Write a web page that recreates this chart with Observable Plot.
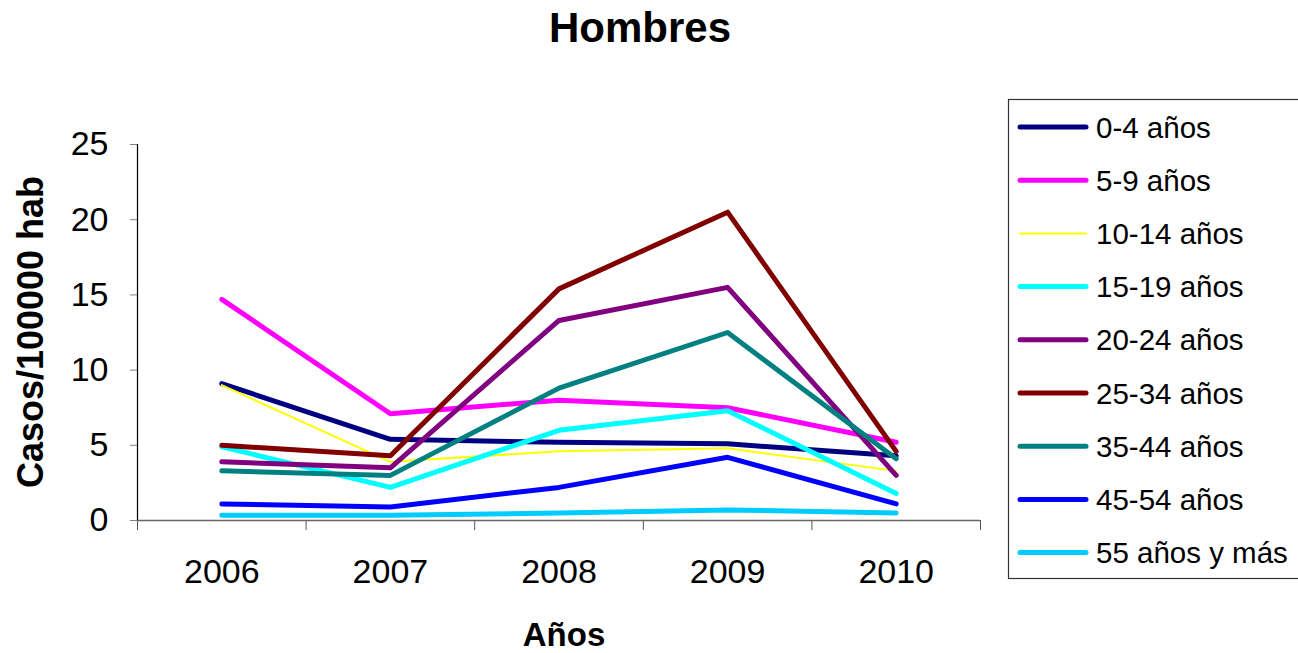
<!DOCTYPE html>
<html>
<head>
<meta charset="utf-8">
<script src="https://cdn.jsdelivr.net/npm/d3@7"></script>
<script src="https://cdn.jsdelivr.net/npm/@observablehq/plot@0.6"></script>
<style>
  html, body { margin: 0; padding: 0; background: #fff; overflow: hidden; }
  #chart { width: 1298px; height: 653px; overflow: hidden; }
</style>
</head>
<body>
<div id="chart"></div>
<script>
const title = "Hombres";
const yLabel = "Casos/100000 hab";
const xLabel = "Años";
const years = [2006, 2007, 2008, 2009, 2010];
const yTicks = [0, 5, 10, 15, 20, 25];
const seriesNames = ["0-4 años", "5-9 años", "10-14 años", "15-19 años", "20-24 años", "25-34 años", "35-44 años", "45-54 años", "55 años y más"];
const seriesColors = ["#000080", "#FF00FF", "#FFFF00", "#00FFFF", "#800080", "#800000", "#008080", "#0000FF", "#00CCFF"];
const seriesWidths = [5, 5, 2, 5, 5, 5, 5, 5, 5];

const v0_4   = [9.1, 5.4, 5.2, 5.1, 4.3];
const v5_9   = [14.7, 7.1, 8.0, 7.5, 5.2];
const v10_14 = [9.0, 3.9, 4.6, 4.8, 3.3];
const v15_19 = [4.9, 2.2, 6.0, 7.3, 1.8];
const v20_24 = [3.9, 3.5, 13.3, 15.5, 3.0];
const v25_34 = [5.0, 4.3, 15.4, 20.5, 4.6];
const v35_44 = [3.3, 3.0, 8.8, 12.5, 4.1];
const v45_54 = [1.1, 0.9, 2.2, 4.2, 1.1];
const v55    = [0.35, 0.35, 0.5, 0.7, 0.5];
const seriesValues = [v0_4, v5_9, v10_14, v15_19, v20_24, v25_34, v35_44, v45_54, v55];

const boundaries = [years[0] - 0.5, ...years.map(y => y + 0.5)];

const lineMarks = seriesNames.map((name, s) =>
  Plot.line(years.map((yr, i) => ({year: yr, value: seriesValues[s][i]})), {
    x: "year", y: "value", stroke: seriesColors[s], strokeWidth: seriesWidths[s],
    strokeLinejoin: "round", strokeLinecap: "round"
  })
);

const W = 1298, H = 653;
const chart = Plot.plot({
  width: W, height: H,
  marginLeft: 137, marginRight: 318, marginTop: 144, marginBottom: 133,
  style: {fontFamily: "'Liberation Sans', Arial, sans-serif", background: "white", color: "black", overflow: "hidden"},
  x: {domain: [boundaries[0], boundaries[boundaries.length - 1]], axis: null},
  y: {domain: [0, 25], axis: null},
  marks: [
    Plot.axisY({ticks: yTicks, tickSize: 7, tickPadding: 22, fontSize: 34, stroke: "#808080", fill: "black", label: null, tickFormat: d => String(d)}),
    Plot.axisX({ticks: boundaries, tickSize: 10, stroke: "#555", tickFormat: () => "", label: null}),
    Plot.axisX({ticks: years, tickSize: 0, tickPadding: 38, fontSize: 34, fill: "black", label: null, tickFormat: d => String(d)}),
    Plot.ruleY([0], {stroke: "#666", strokeWidth: 1.5}),
    Plot.ruleX([boundaries[0]], {stroke: "black", strokeWidth: 1.2}),
    ...lineMarks
  ]
});
document.getElementById("chart").appendChild(chart);

const svg = d3.select(chart);
const font = "'Liberation Sans', Arial, sans-serif";
svg.append("text").attr("x", 640).attr("y", 42).attr("text-anchor", "middle")
  .attr("font-family", font).attr("font-weight", "bold").attr("font-size", 42).attr("fill", "black").text(title);
svg.append("text").attr("transform", "translate(43,332) rotate(-90)").attr("text-anchor", "middle")
  .attr("font-family", font).attr("font-weight", "bold").attr("font-size", 36).attr("fill", "black").text(yLabel);
svg.append("text").attr("x", 564).attr("y", 646).attr("text-anchor", "middle")
  .attr("font-family", font).attr("font-weight", "bold").attr("font-size", 33).attr("fill", "black").text(xLabel);

// legend (right side of box lies beyond the picture, as in the reference)
const lg = svg.append("g");
lg.append("rect").attr("x", 1008.5).attr("y", 99.5).attr("width", 400).attr("height", 479)
  .attr("fill", "white").attr("stroke", "#333").attr("stroke-width", 1.2);
seriesNames.forEach((name, s) => {
  const cy = 127 + s * 53.2;
  lg.append("line").attr("x1", 1020).attr("x2", 1086).attr("y1", cy).attr("y2", cy)
    .attr("stroke", seriesColors[s]).attr("stroke-width", seriesWidths[s]).attr("stroke-linecap", "round");
  lg.append("text").attr("x", 1096).attr("y", cy).attr("dy", "0.36em").attr("text-anchor", "start")
    .attr("font-family", font).attr("font-size", 29.5).attr("fill", "black").text(name);
});
</script>
</body>
</html>
